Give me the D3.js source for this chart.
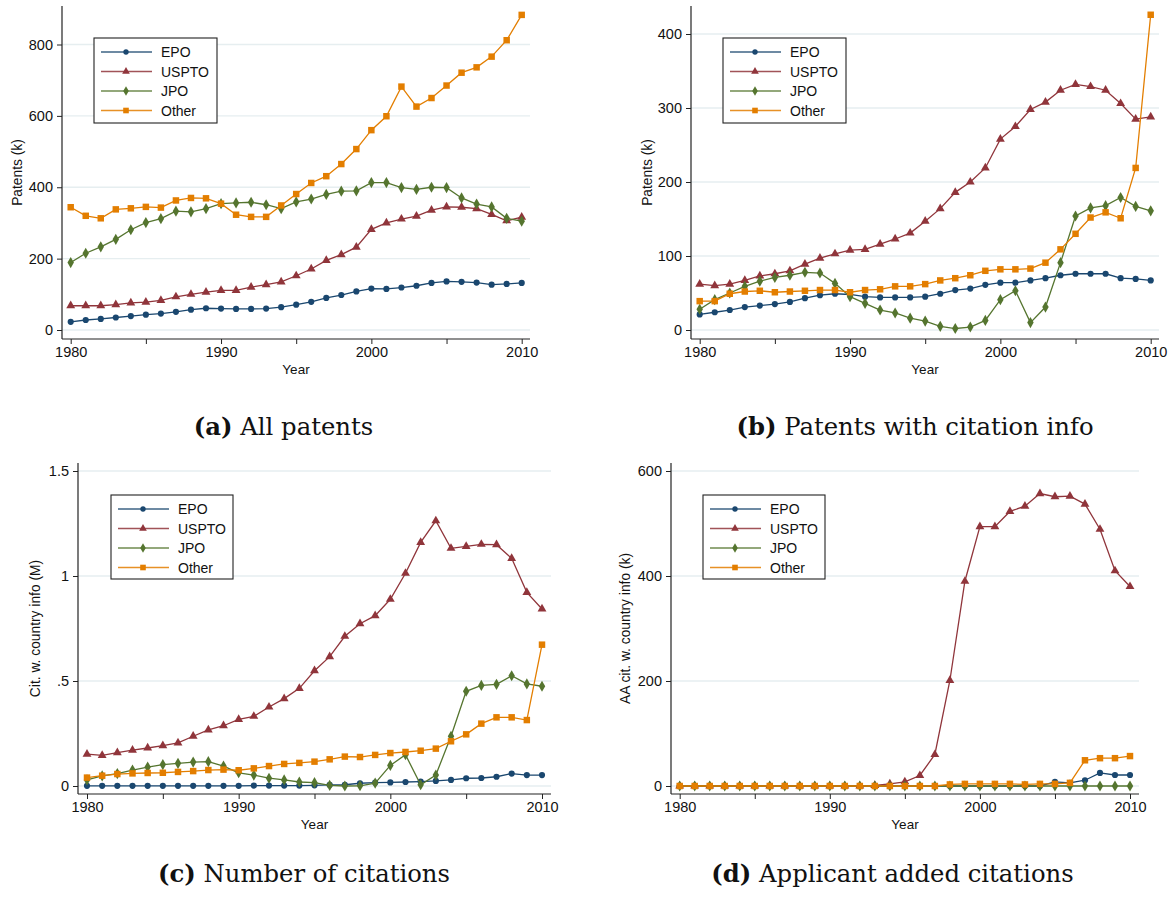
<!DOCTYPE html>
<html><head><meta charset="utf-8">
<script src="https://cdn.jsdelivr.net/npm/d3@7"></script>
<style>body{margin:0;background:#fff}svg{display:block}</style>
</head><body>
<svg id="c" width="1172" height="899"></svg>
<script>
const years = d3.range(1980, 2011);
const seriesNames = ["EPO", "USPTO", "JPO", "Other"];

// (a) All patents (k)
const aEPO   = [23,28,31,35,39,43,46,51,57,61,60,59,59,60,64,71,79,90,98,108,116,115,119,124,132,136,135,133,127,129,132];
const aUSPTO = [68,68,68,71,76,78,83,93,100,106,111,111,120,127,135,152,171,195,211,232,282,300,311,319,336,345,344,340,324,306,316];
const aJPO   = [189,215,233,254,281,301,312,333,331,340,354,356,358,351,340,359,367,380,389,390,413,413,399,394,400,399,370,353,345,313,305];
const aOther = [344,320,313,338,341,345,343,363,370,369,354,323,317,317,349,381,412,431,465,507,560,599,682,626,650,685,721,736,766,812,883];

// (b) Patents with citation info (k)
const bEPO   = [21,24,27,31,33,35,38,43,47,49,48,45,44,44,44,45,49,54,56,61,64,64,67,70,74,76,76,76,70,69,67];
const bUSPTO = [62,60,62,67,73,76,80,89,97,103,108,109,116,123,131,147,164,186,200,219,258,275,298,308,324,332,329,324,306,285,288];
const bJPO   = [28,41,50,59,66,71,74,78,77,63,45,36,27,23,16,12,5,2,4,13,41,53,10,31,91,154,165,168,179,167,161];
const bOther = [39,39,49,52,53,51,52,53,54,54,51,54,55,59,59,62,67,70,74,80,82,82,83,91,109,130,152,159,151,219,426];

// (c) Number of citations (M)
const cEPO   = [0.001,0.001,0.001,0.001,0.001,0.001,0.001,0.001,0.001,0.001,0.001,0.002,0.002,0.002,0.002,0.003,0.005,0.006,0.013,0.016,0.017,0.019,0.021,0.024,0.029,0.037,0.038,0.044,0.059,0.052,0.052];
const cUSPTO = [0.152,0.146,0.159,0.171,0.181,0.192,0.205,0.237,0.267,0.287,0.317,0.332,0.376,0.416,0.465,0.549,0.616,0.713,0.773,0.811,0.889,1.013,1.160,1.263,1.132,1.141,1.151,1.149,1.084,0.922,0.843];
const cJPO   = [0.029,0.048,0.059,0.076,0.090,0.102,0.108,0.114,0.116,0.095,0.063,0.052,0.037,0.029,0.019,0.016,0.003,0.000,0.001,0.014,0.098,0.149,0.006,0.052,0.237,0.451,0.479,0.484,0.525,0.486,0.475];
const cOther = [0.040,0.049,0.057,0.060,0.062,0.063,0.067,0.071,0.076,0.078,0.075,0.084,0.095,0.105,0.110,0.116,0.127,0.140,0.138,0.148,0.157,0.162,0.168,0.178,0.213,0.246,0.297,0.327,0.327,0.314,0.673];

// (d) Applicant added citations (k)
const dEPO   = [0,0,0,0,0,0,0,0,0,0,0,0,0,0,0,0,0,0,0,0,0,0,0,0,0,8,6,11,25,21,21];
const dUSPTO = [0,0,0,0,0,0,0,0,0,0,0,0,0,1,4,8,20,60,201,390,494,494,523,533,557,551,552,537,489,410,380];
const dJPO   = [0,0,0,0,0,0,0,0,0,0,0,0,0,0,0,0,0,0,0,0,0,0,0,0,0,0,0,0,0,0,0];
const dOther = [0,0,0,0,0,0,0,0,0,0,0,0,0,0,0,0,0,0,3,4,4,4,4,3,4,4,6,49,53,53,57];

const xTicks = [1980, 1985, 1990, 1995, 2000, 2005, 2010];
const xTickLabels = [1980, 1990, 2000, 2010];
const aTicks = [0, 200, 400, 600, 800];
const bTicks = [0, 100, 200, 300, 400];
const cTicks = [0, 0.5, 1, 1.5];
const cTickLabels = ["0", ".5", "1", "1.5"];
const dTicks = [0, 200, 400, 600];

const colors = {EPO: "#1a476f", USPTO: "#90353b", JPO: "#55752f", Other: "#e37e00"};
const symbols = {EPO: d3.symbolCircle, USPTO: d3.symbolTriangle, JPO: d3.symbolDiamond, Other: d3.symbolSquare};
const symSize = {EPO: 30, USPTO: 34, JPO: 36, Other: 42};

const svg = d3.select("#c");
const FONT = "Liberation Sans, Arial, sans-serif";

const panels = [
  {key:"a", data:[aEPO,aUSPTO,aJPO,aOther], ticks:aTicks, labels:aTicks.map(String), domain:[0,800],
   axisX:62, axisEnd:530, axisTop:6, axisBottom:339, x0:70.7, x1:521.7, y0:330, y1:44.5,
   ylabel:"Patents (k)", ylabelX:17, legend:[94,38,123,85],
   cap:["(a)"," All patents"], capX:283.5, capY:435},
  {key:"b", data:[bEPO,bUSPTO,bJPO,bOther], ticks:bTicks, labels:bTicks.map(String), domain:[0,400],
   axisX:691, axisEnd:1159, axisTop:6, axisBottom:339, x0:699.7, x1:1150.7, y0:330, y1:34,
   ylabel:"Patents (k)", ylabelX:647, legend:[723,38,123,85],
   cap:["(b)"," Patents with citation info"], capX:915, capY:435},
  {key:"c", data:[cEPO,cUSPTO,cJPO,cOther], ticks:cTicks, labels:cTickLabels, domain:[0,1.5],
   axisX:78, axisEnd:551, axisTop:463, axisBottom:794, x0:87, x1:542, y0:786, y1:471,
   ylabel:"Cit. w. country info (M)", ylabelX:35, legend:[111,495,122,84],
   cap:["(c)"," Number of citations"], capX:304, capY:882},
  {key:"d", data:[dEPO,dUSPTO,dJPO,dOther], ticks:dTicks, labels:dTicks.map(String), domain:[0,600],
   axisX:671, axisEnd:1139, axisTop:463, axisBottom:794, x0:679.7, x1:1130, y0:786, y1:471,
   ylabel:"AA cit. w. country info (k)", ylabelX:625, legend:[703,495,122,84],
   cap:["(d)"," Applicant added citations"], capX:892.5, capY:882}
];

panels.forEach(p => {
  const x = d3.scaleLinear().domain([1980, 2010]).range([p.x0, p.x1]);
  const y = d3.scaleLinear().domain(p.domain).range([p.y0, p.y1]);
  const g = svg.append("g");

  // gridlines
  g.selectAll("line.grid").data(p.ticks).join("line")
    .attr("x1", p.axisX).attr("x2", p.axisEnd)
    .attr("y1", d => y(d)).attr("y2", d => y(d))
    .attr("stroke", "#e6eef0").attr("stroke-width", 1.3);

  // y axis
  const yAxis = d3.axisLeft(y).tickValues(p.ticks).tickFormat((d,i) => p.labels[i]).tickSize(5).tickPadding(4);
  const ya = g.append("g").attr("transform", `translate(${p.axisX},0)`).call(yAxis);
  ya.select(".domain").remove();
  ya.append("line").attr("x1",0).attr("x2",0).attr("y1",p.axisTop).attr("y2",p.axisBottom).attr("stroke","#222").attr("stroke-width",1.2);
  ya.selectAll(".tick line").attr("stroke","#222");
  ya.selectAll("text").attr("font-family", FONT).attr("font-size", 14.5).attr("fill", "#111");

  // x axis
  const xAxis = d3.axisBottom(x).tickValues(xTicks).tickFormat(d => xTickLabels.includes(d) ? String(d) : "").tickSize(5).tickPadding(3);
  const xa = g.append("g").attr("transform", `translate(0,${p.axisBottom})`).call(xAxis);
  xa.select(".domain").remove();
  xa.append("line").attr("x1",p.axisX).attr("x2",p.axisEnd).attr("y1",0).attr("y2",0).attr("stroke","#222").attr("stroke-width",1.2);
  xa.selectAll(".tick line").attr("stroke","#222");
  xa.selectAll("text").attr("font-family", FONT).attr("font-size", 14.5).attr("fill", "#111");

  // axis titles
  g.append("text").attr("x", (p.axisX + p.axisEnd)/2).attr("y", p.axisBottom + 35)
    .attr("text-anchor","middle").attr("font-family",FONT).attr("font-size",13.5).attr("fill","#111").text("Year");
  g.append("text").attr("transform", `translate(${p.ylabelX},${(p.axisTop+p.axisBottom)/2}) rotate(-90)`)
    .attr("text-anchor","middle").attr("dominant-baseline","central").attr("font-family",FONT).attr("font-size",13.8).attr("fill","#111").text(p.ylabel);

  // series
  const line = d3.line().x((d,i) => x(years[i])).y(d => y(d));
  seriesNames.forEach((name, si) => {
    const vals = p.data[si];
    g.append("path").datum(vals).attr("d", line).attr("fill","none")
      .attr("stroke", colors[name]).attr("stroke-width", 1.3);
    g.selectAll(null).data(vals).join("path")
      .attr("transform", (d,i) => `translate(${x(years[i])},${y(d)})`)
      .attr("d", d3.symbol(symbols[name], symSize[name]))
      .attr("fill", colors[name]);
  });

  // legend
  const [lx, ly, lw, lh] = p.legend;
  const lg = g.append("g").attr("transform", `translate(${lx},${ly})`);
  lg.append("rect").attr("width", lw).attr("height", lh).attr("fill","#fff").attr("stroke","#222").attr("stroke-width",1.1);
  seriesNames.forEach((name, si) => {
    const ry = 14 + si * 19.5;
    lg.append("line").attr("x1",7).attr("x2",58).attr("y1",ry).attr("y2",ry).attr("stroke",colors[name]).attr("stroke-width",1.6).attr("stroke-opacity",0.85);
    lg.append("path").attr("transform",`translate(32,${ry})`).attr("d", d3.symbol(symbols[name], symSize[name]*0.75)).attr("fill",colors[name]);
    lg.append("text").attr("x",67).attr("y",ry).attr("dominant-baseline","central").attr("font-family",FONT).attr("font-size",14).attr("fill","#111").text(name);
  });

  // caption
  const cap = svg.append("text").attr("x", p.capX).attr("y", p.capY).attr("text-anchor","middle")
    .attr("font-family","DejaVu Serif, serif").attr("font-size",24.3).attr("fill","#111");
  cap.append("tspan").attr("font-weight","bold").text(p.cap[0]);
  cap.append("tspan").text(p.cap[1]);
});
</script>
</body></html>
